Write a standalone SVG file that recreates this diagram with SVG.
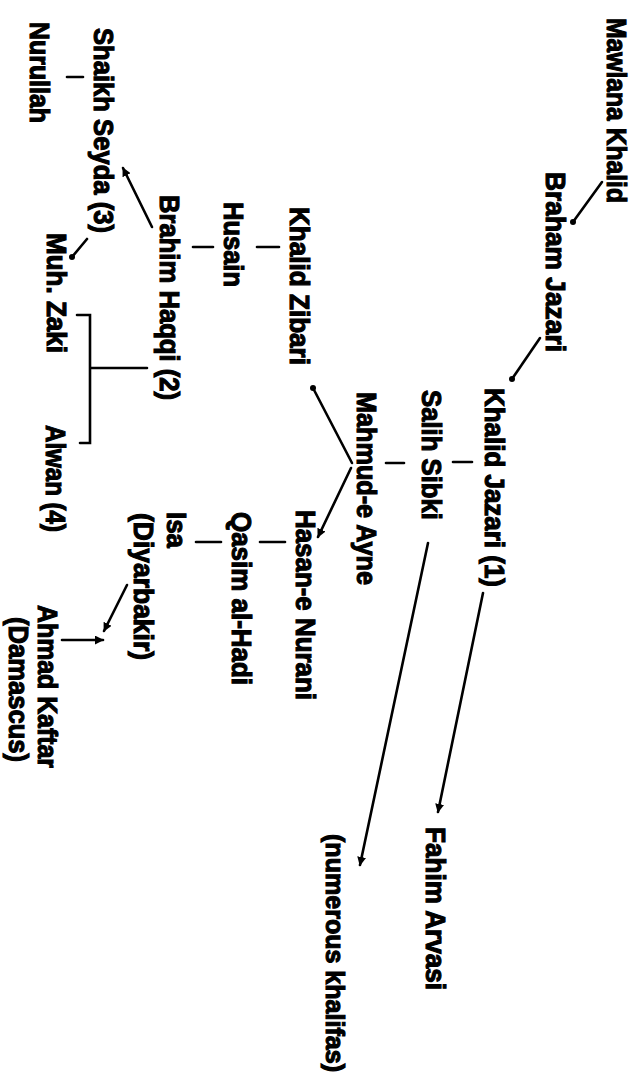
<svg xmlns="http://www.w3.org/2000/svg" width="633" height="1080" viewBox="0 0 633 1080">
<style>
.lbl{font-family:"Liberation Sans",Arial,sans-serif;font-weight:bold;font-size:27px;fill:#000;stroke:#000;stroke-width:1.1px}
.ln{stroke:#000;stroke-width:2.6;fill:none;stroke-linecap:round}
</style>
<defs>
<marker id="arr" viewBox="0 0 10 10" refX="9" refY="5" markerWidth="9" markerHeight="9" markerUnits="userSpaceOnUse" orient="auto"><path d="M0,0 L10,5 L0,10 z" fill="#000"/></marker>
<marker id="dot" viewBox="0 0 10 10" refX="5" refY="5" markerWidth="6" markerHeight="6" markerUnits="userSpaceOnUse"><circle cx="5" cy="5" r="5" fill="#000"/></marker>
</defs>
<rect width="633" height="1080" fill="#fff"/>
<g id="connectors">
<line class="ln" x1="602" y1="182" x2="573" y2="222" marker-end="url(#dot)"/>
<line class="ln" x1="540" y1="338" x2="512" y2="379" marker-end="url(#dot)"/>
<line class="ln" x1="453" y1="462" x2="472" y2="462"/>
<line class="ln" x1="386" y1="463" x2="404" y2="463"/>
<line class="ln" x1="352" y1="463" x2="313" y2="388" marker-end="url(#dot)"/>
<line class="ln" x1="351" y1="468" x2="318" y2="537" marker-end="url(#arr)"/>
<line class="ln" x1="257" y1="247" x2="279" y2="247"/>
<line class="ln" x1="193" y1="247" x2="213" y2="247"/>
<line class="ln" x1="152" y1="227" x2="123" y2="168" marker-end="url(#arr)"/>
<line class="ln" x1="67" y1="77" x2="83" y2="77"/>
<line class="ln" x1="87" y1="239" x2="72" y2="257" marker-end="url(#dot)"/>
<path class="ln" d="M77 315 H90 V443 H80 M90 368 H147"/>
<line class="ln" x1="260" y1="542" x2="285" y2="542"/>
<line class="ln" x1="196" y1="542" x2="221" y2="542"/>
<line class="ln" x1="127" y1="585" x2="104" y2="631" marker-end="url(#arr)"/>
<line class="ln" x1="62" y1="640" x2="103" y2="640" marker-end="url(#arr)"/>
<line class="ln" x1="483" y1="593" x2="438" y2="812" marker-end="url(#arr)"/>
<line class="ln" x1="428" y1="543" x2="360" y2="865" marker-end="url(#arr)"/>
</g>
<g id="n1"><text class="lbl" transform="translate(607,18) rotate(90)" textLength="185" lengthAdjust="spacingAndGlyphs">Mawlana Khalid</text></g>
<g id="n2"><text class="lbl" transform="translate(546,172) rotate(90)" textLength="180" lengthAdjust="spacingAndGlyphs">Braham Jazari</text></g>
<g id="n3"><text class="lbl" transform="translate(485,388) rotate(90)" textLength="199" lengthAdjust="spacingAndGlyphs">Khalid Jazari (1)</text></g>
<g id="n4"><text class="lbl" transform="translate(422,390) rotate(90)" textLength="130" lengthAdjust="spacingAndGlyphs">Salih Sibki</text></g>
<g id="n5"><text class="lbl" transform="translate(357,392) rotate(90)" textLength="193" lengthAdjust="spacingAndGlyphs">Mahmud-e Ayne</text></g>
<g id="n6"><text class="lbl" transform="translate(290,207) rotate(90)" textLength="158" lengthAdjust="spacingAndGlyphs">Khalid Zibari</text></g>
<g id="n7"><text class="lbl" transform="translate(224,202) rotate(90)" textLength="85" lengthAdjust="spacingAndGlyphs">Husain</text></g>
<g id="n8"><text class="lbl" transform="translate(160,195) rotate(90)" textLength="205" lengthAdjust="spacingAndGlyphs">Brahim Haqqi (2)</text></g>
<g id="n9"><text class="lbl" transform="translate(94,28) rotate(90)" textLength="205" lengthAdjust="spacingAndGlyphs">Shaikh Seyda (3)</text></g>
<g id="n10"><text class="lbl" transform="translate(30,22) rotate(90)" textLength="101" lengthAdjust="spacingAndGlyphs">Nurullah</text></g>
<g id="n11"><text class="lbl" transform="translate(47,233) rotate(90)" textLength="120" lengthAdjust="spacingAndGlyphs">Muh. Zaki</text></g>
<g id="n12"><text class="lbl" transform="translate(46,425) rotate(90)" textLength="107" lengthAdjust="spacingAndGlyphs">Alwan (4)</text></g>
<g id="n13"><text class="lbl" transform="translate(296,510) rotate(90)" textLength="190" lengthAdjust="spacingAndGlyphs">Hasan-e Nurani</text></g>
<g id="n14"><text class="lbl" transform="translate(232,512) rotate(90)" textLength="173" lengthAdjust="spacingAndGlyphs">Qasim al-Hadi</text></g>
<g id="n15"><text class="lbl" transform="translate(167,512) rotate(90)" textLength="36" lengthAdjust="spacingAndGlyphs">Isa</text>
<text class="lbl" transform="translate(134,513) rotate(90)" textLength="147" lengthAdjust="spacingAndGlyphs">(Diyarbakir)</text></g>
<g id="n16"><text class="lbl" transform="translate(38,605) rotate(90)" textLength="163" lengthAdjust="spacingAndGlyphs">Ahmad Kaftar</text>
<text class="lbl" transform="translate(9,617) rotate(90)" textLength="145" lengthAdjust="spacingAndGlyphs">(Damascus)</text></g>
<g id="n17"><text class="lbl" transform="translate(426,827) rotate(90)" textLength="163" lengthAdjust="spacingAndGlyphs">Fahim Arvasi</text></g>
<g id="n18"><text class="lbl" style="font-size:25px" transform="translate(326,834) rotate(90)" textLength="238" lengthAdjust="spacingAndGlyphs">(numerous khalifas)</text></g>
</svg>
